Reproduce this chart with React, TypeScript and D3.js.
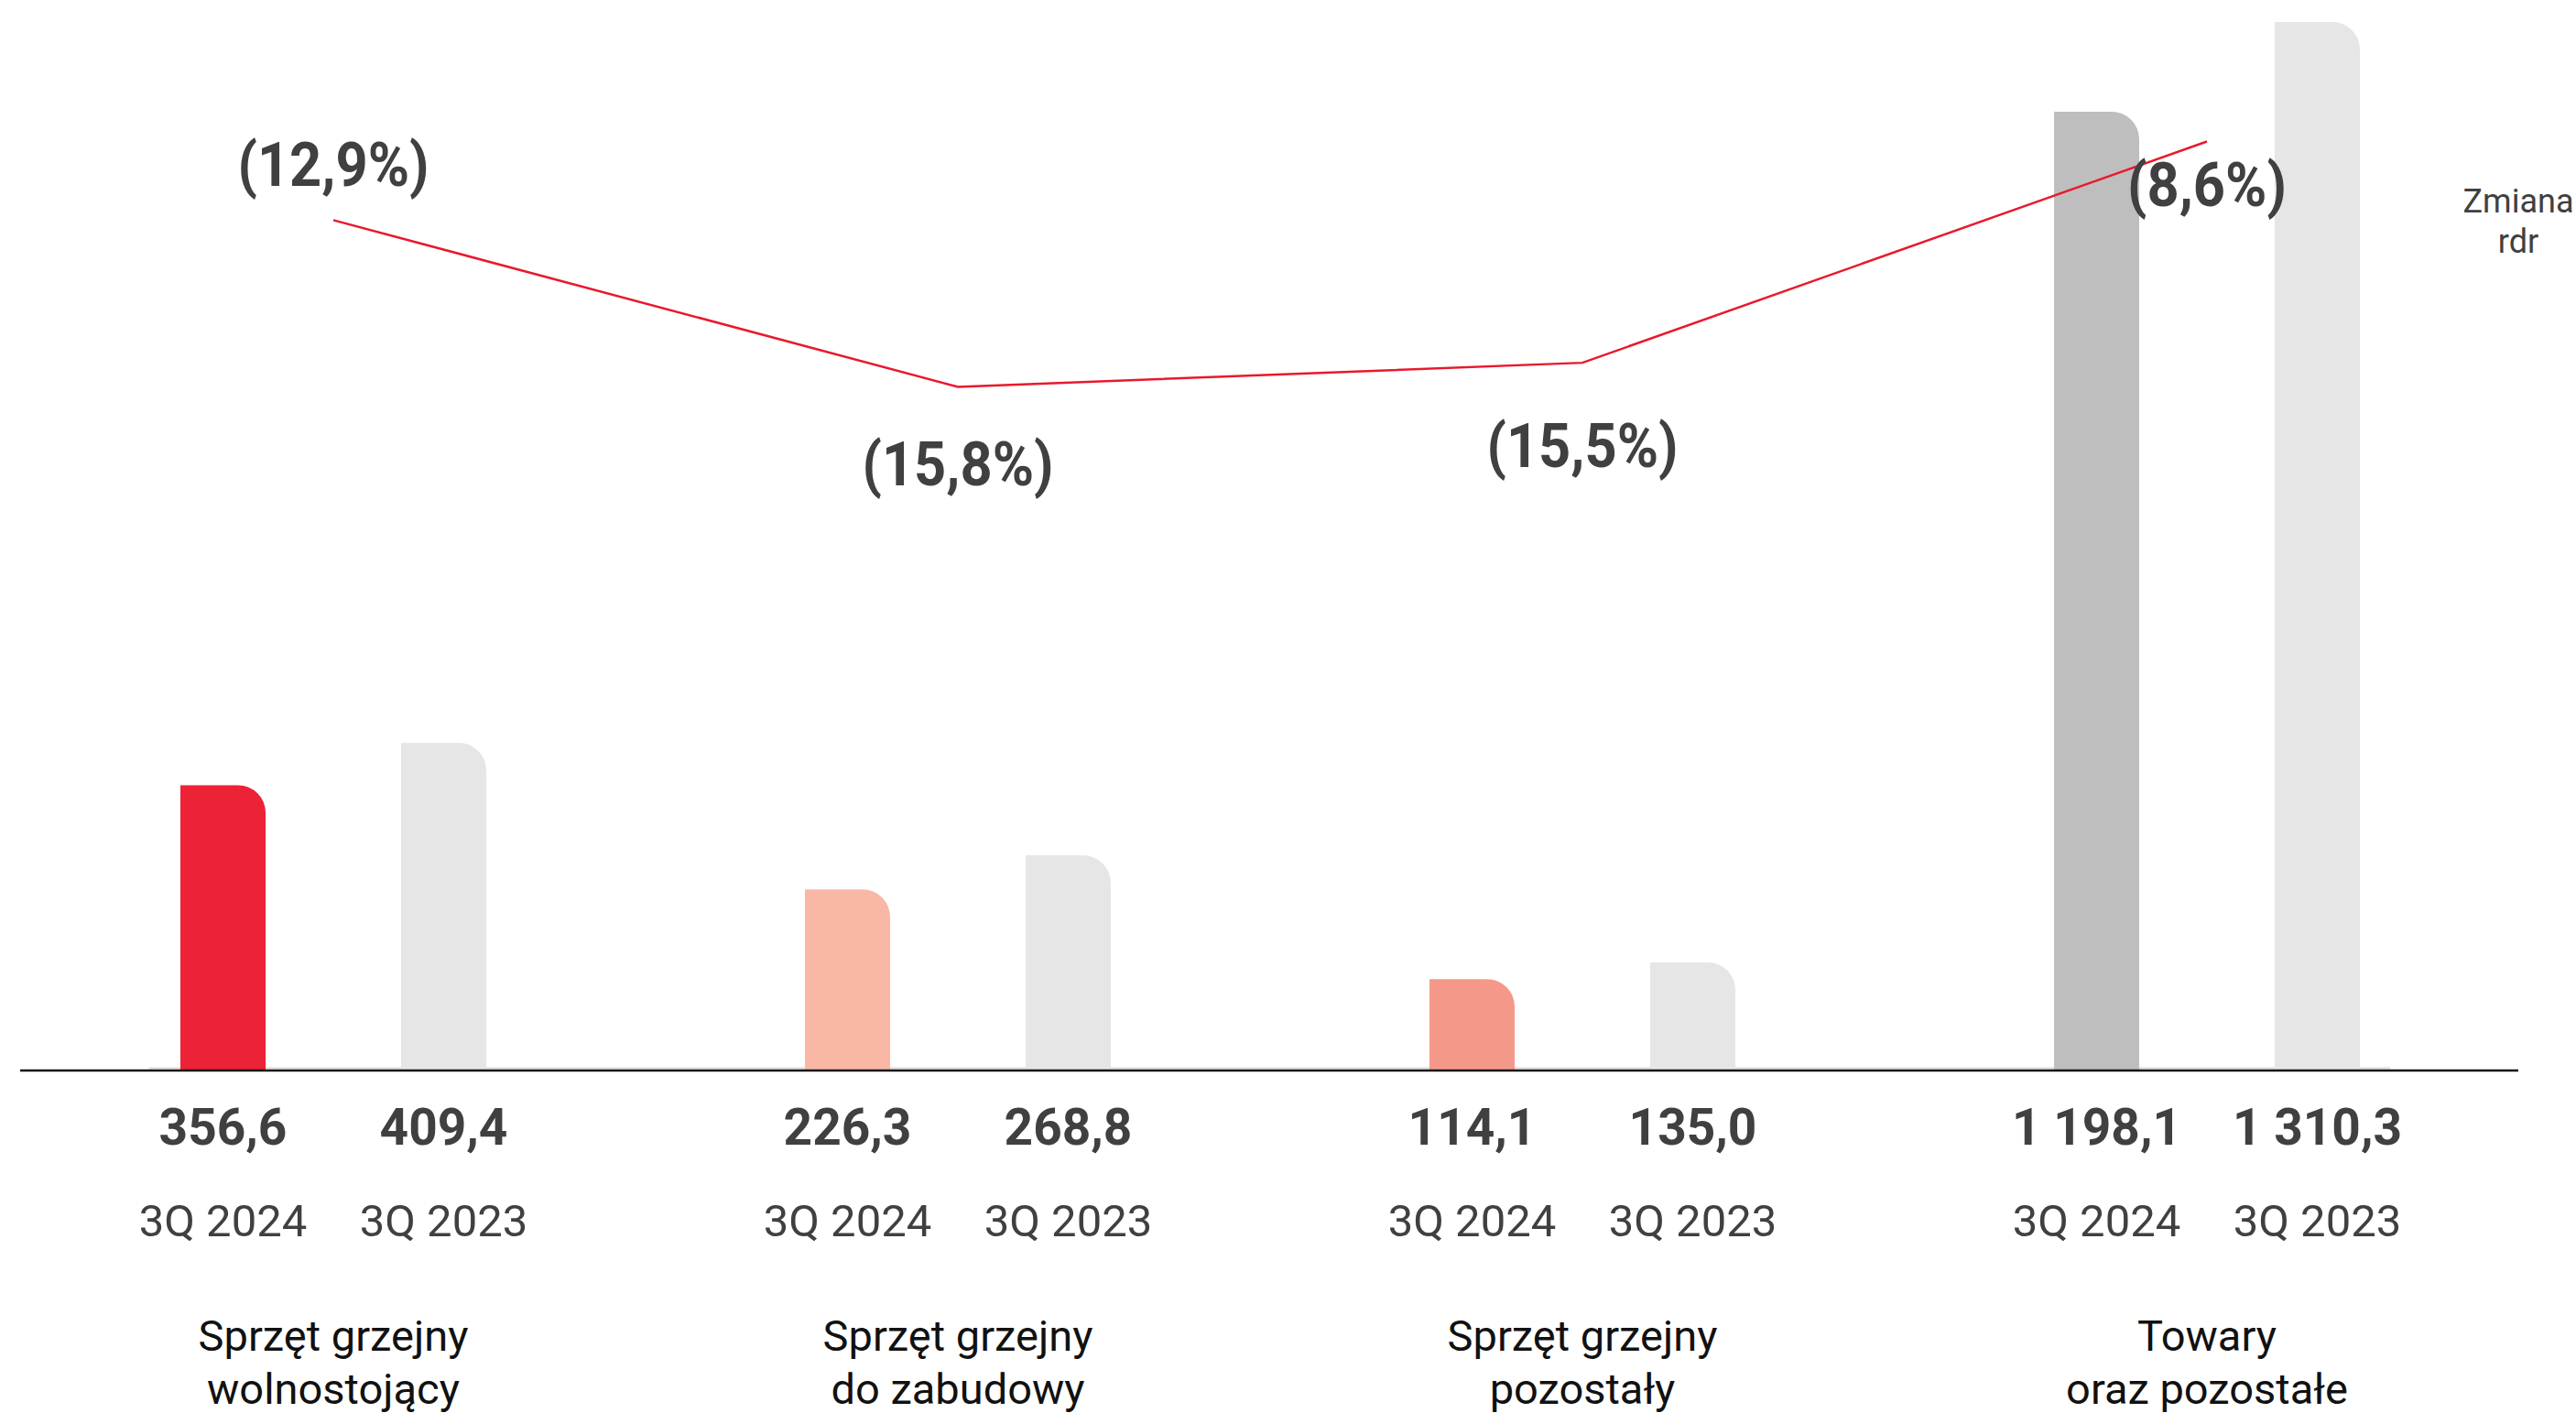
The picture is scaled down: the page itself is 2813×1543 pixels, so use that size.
import React from "react";
import * as d3 from "d3";

const categories = [
  ["Sprzęt grzejny", "wolnostojący"],
  ["Sprzęt grzejny", "do zabudowy"],
  ["Sprzęt grzejny", "pozostały"],
  ["Towary", "oraz pozostałe"],
];
const periods = ["3Q 2024", "3Q 2023"];
const values2024 = [356.6, 226.3, 114.1, 1198.1];
const values2023 = [409.4, 268.8, 135.0, 1310.3];
const valueLabels2024 = ["356,6", "226,3", "114,1", "1 198,1"];
const valueLabels2023 = ["409,4", "268,8", "135,0", "1 310,3"];
const changeLabels = ["(12,9%)", "(15,8%)", "(15,5%)", "(8,6%)"];
// position of the "Zmiana rdr" line on its own (hidden) secondary axis, 0-100
const changeLineLevels = [81.1, 65.2, 67.5, 88.6];
const changeLabelBelow = [false, true, true, true];
const colors2024 = ["#EC2236", "#F9B8A6", "#F4998A", "#BEBEBE"];
const color2023 = "#E6E6E6";

const W = 2813;
const H = 1543;
const baseY = 1169;
const topY = 24;

export default function App() {
  const keys = categories.map((c) => c.join(" "));
  const x0 = d3.scaleBand<string>().domain(keys).range([23, 2751]).padding(0);
  const step = x0.bandwidth();
  const x1 = d3
    .scaleBand<string>()
    .domain(periods)
    .range([0, step])
    .paddingInner(0.614)
    .paddingOuter(0.722);
  const y = d3.scaleLinear().domain([0, 1310.3]).range([baseY, topY]);
  const y2 = d3.scaleLinear().domain([0, 100]).range([baseY, topY]);
  const bw = x1.bandwidth();
  const r = 30;

  const barPath = (x: number, yt: number, w: number) => {
    const rr = Math.min(r, baseY - yt, w);
    return `M${x},${baseY} L${x},${yt} L${x + w - rr},${yt} A${rr},${rr} 0 0 1 ${x + w},${yt + rr} L${x + w},${baseY} Z`;
  };

  const center = (i: number) => (x0(keys[i]) as number) + step / 2;
  const line = d3
    .line<number>()
    .x((_, i) => center(i))
    .y((d) => y2(d));

  const font = "Roboto, 'Noto Sans', sans-serif";
  const belowOffset = [0, 108, 114, 70];

  return (
    <div style={{ position: "absolute", left: 0, top: 0 }}>
      <svg width={W} height={H} style={{ display: "block", background: "#fff" }}>
        <line x1={163} x2={2610} y1={baseY - 2.5} y2={baseY - 2.5} stroke="#D9D9D9" strokeWidth={2} />
        {keys.map((k, i) => {
          const gx = x0(k) as number;
          const xa = gx + (x1(periods[0]) as number);
          const xb = gx + (x1(periods[1]) as number);
          return (
            <g key={k}>
              <path d={barPath(xa, y(values2024[i]), bw)} fill={colors2024[i]} />
              <path d={barPath(xb, y(values2023[i]), bw)} fill={color2023} />
              <text x={xa + bw / 2} y={1250} textAnchor="middle" fontFamily={font} fontWeight={700} fontSize={55} fill="#404040">
                {valueLabels2024[i]}
              </text>
              <text x={xb + bw / 2} y={1250} textAnchor="middle" fontFamily={font} fontWeight={700} fontSize={55} fill="#404040">
                {valueLabels2023[i]}
              </text>
              <text x={xa + bw / 2} y={1350} textAnchor="middle" fontFamily={font} fontSize={49} fill="#404040">
                {periods[0]}
              </text>
              <text x={xb + bw / 2} y={1350} textAnchor="middle" fontFamily={font} fontSize={49} fill="#404040">
                {periods[1]}
              </text>
              {categories[i].map((t, j) => (
                <text key={j} x={gx + step / 2} y={1475 + j * 58} textAnchor="middle" fontFamily={font} fontSize={47} fill="#111">
                  {t}
                </text>
              ))}
            </g>
          );
        })}
        <line x1={22} x2={2750} y1={baseY} y2={baseY} stroke="#111" strokeWidth={2.5} />
        <path d={line(changeLineLevels) || ""} fill="none" stroke="#E8192C" strokeWidth={2.5} />
        {changeLabels.map((t, i) => {
          const ty = changeLabelBelow[i] ? y2(changeLineLevels[i]) + belowOffset[i] : y2(changeLineLevels[i]) - 37;
          return (
            <text
              key={t}
              transform={`translate(${center(i)},${ty}) scale(0.93,1)`}
              textAnchor="middle"
              fontFamily={font}
              fontWeight={700}
              fontSize={66}
              fill="#404040"
            >
              {t}
            </text>
          );
        })}
        <text x={2750} y={232} textAnchor="middle" fontFamily={font} fontSize={36} fill="#404040">
          Zmiana
        </text>
        <text x={2750} y={276} textAnchor="middle" fontFamily={font} fontSize={36} fill="#404040">
          rdr
        </text>
      </svg>
    </div>
  );
}
